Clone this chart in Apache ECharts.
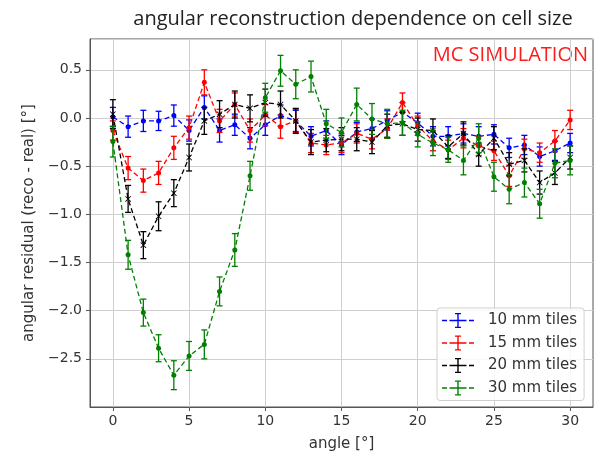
<!DOCTYPE html>
<html><head><meta charset="utf-8">
<script src="https://cdn.jsdelivr.net/npm/echarts@6/dist/echarts.min.js"></script>
<style>html,body{margin:0;padding:0;background:#fff}#c{width:601px;height:457px}</style>
</head><body><div id="c"></div>
<script>
const angles = [0,1,2,3,4,5,6,7,8,9,10,11,12,13,14,15,16,17,18,19,20,21,22,23,24,25,26,27,28,29,30];
const xTicks = [0,5,10,15,20,25,30];
const seriesNames = ['10 mm tiles','15 mm tiles','20 mm tiles','30 mm tiles'];
const tiles10 = [0.01,-0.09,-0.03,-0.03,0.025,-0.13,0.11,-0.13,-0.07,-0.21,-0.07,0.025,-0.03,-0.19,-0.13,-0.28,-0.145,-0.11,-0.025,0.06,-0.05,-0.19,-0.19,-0.16,-0.19,-0.17,-0.31,-0.28,-0.40,-0.34,-0.26];
const err10 = [0.10,0.11,0.11,0.10,0.11,0.11,0.12,0.12,0.11,0.11,0.11,0.11,0.11,0.10,0.10,0.10,0.10,0.10,0.10,0.10,0.10,0.10,0.10,0.10,0.10,0.10,0.10,0.10,0.10,0.10,0.10];
const tiles15 = [-0.13,-0.52,-0.65,-0.57,-0.31,-0.10,0.37,-0.03,0.14,-0.13,0.03,-0.09,-0.03,-0.26,-0.28,-0.26,-0.16,-0.22,-0.11,0.16,-0.08,-0.24,-0.33,-0.21,-0.29,-0.34,-0.60,-0.32,-0.36,-0.24,-0.02];
const err15 = [0.10,0.12,0.12,0.12,0.12,0.12,0.13,0.12,0.12,0.12,0.11,0.12,0.12,0.10,0.10,0.10,0.10,0.10,0.10,0.10,0.10,0.10,0.10,0.10,0.10,0.10,0.11,0.10,0.10,0.11,0.10];
const tiles20 = [0.04,-0.84,-1.32,-1.02,-0.78,-0.41,-0.03,0.04,0.14,0.10,0.16,0.14,-0.03,-0.25,-0.23,-0.22,-0.22,-0.25,-0.08,-0.06,-0.12,-0.13,-0.30,-0.16,-0.38,-0.21,-0.48,-0.44,-0.67,-0.57,-0.41];
const err20 = [0.15,0.14,0.14,0.15,0.14,0.14,0.14,0.14,0.14,0.14,0.14,0.14,0.13,0.13,0.12,0.12,0.12,0.12,0.12,0.12,0.12,0.12,0.12,0.12,0.12,0.12,0.12,0.12,0.12,0.12,0.12];
const tiles30 = [-0.245,-1.42,-2.02,-2.39,-2.67,-2.47,-2.35,-1.80,-1.37,-0.60,0.21,0.49,0.35,0.43,-0.06,-0.15,0.14,-0.01,-0.06,-0.05,-0.17,-0.26,-0.33,-0.44,-0.21,-0.61,-0.74,-0.67,-0.89,-0.47,-0.44];
const err30 = [0.16,0.15,0.14,0.14,0.15,0.15,0.15,0.15,0.17,0.15,0.15,0.16,0.15,0.16,0.15,0.15,0.17,0.16,0.15,0.13,0.13,0.13,0.13,0.15,0.15,0.15,0.15,0.15,0.15,0.15,0.15];
const colors = ['#0000ff','#ff0000','#000000','#008000'];
const values = [tiles10, tiles15, tiles20, tiles30];
const errs = [err10, err15, err20, err30];

const chart = echarts.init(document.getElementById('c'), null, {renderer:'canvas'});
function errRenderer(color){
  return function(params, api){
    const x = api.value(0), lo = api.value(1), hi = api.value(2);
    const p1 = api.coord([x, hi]), p2 = api.coord([x, lo]);
    const w = 3;
    const st = {stroke: color, lineWidth: 1.3};
    return {type:'group', children:[
      {type:'line', shape:{x1:p1[0],y1:p1[1],x2:p2[0],y2:p2[1]}, style:st},
      {type:'line', shape:{x1:p1[0]-w,y1:p1[1],x2:p1[0]+w,y2:p1[1]}, style:st},
      {type:'line', shape:{x1:p2[0]-w,y1:p2[1],x2:p2[0]+w,y2:p2[1]}, style:st}
    ]};
  };
}
const xMarker = 'path://M0,1L1,0L5,4L9,0L10,1L6,5L10,9L9,10L5,6L1,10L0,9L4,5Z';
const series = [];
seriesNames.forEach((name, k) => {
  series.push({
    name: name, type: 'line',
    data: angles.map((a,i)=>[a, values[k][i]]),
    color: colors[k],
    symbol: k===2 ? xMarker : 'circle',
    symbolSize: k===2 ? 6 : 5,
    lineStyle: {type:[5,3], width:1.3, color: colors[k]},
    itemStyle: {color: colors[k]},
    z: 2 + k
  });
  series.push({
    name: name + ' err', type: 'custom',
    data: angles.map((a,i)=>[a, values[k][i]-errs[k][i], values[k][i]+errs[k][i]]),
    encode: {x:0, y:[1,2]},
    renderItem: errRenderer(colors[k]),
    z: 2 + k
  });
});
const legendIcon = 'path://M0,7.3h5v1.4h-5z M7.5,7.3h4.5v1.4h-4.5z M12,7.3h8v1.4h-8z M20,7.3h4.5v1.4h-4.5z M27,7.3h5v1.4h-5z M15.3,0.5h1.4v15h-1.4z M13,0.5h6v1.2h-6z M13,14.3h6v1.2h-6z';
const axisFont = {fontFamily:'DejaVu Sans', fontSize:14, color:'#333'};
const fmt = v => v < 0 ? '\u2212' + Math.abs(v).toFixed(1) : v.toFixed(1);
chart.setOption({
  animation: false,
  backgroundColor: '#fff',
  title: {text:'angular reconstruction dependence on cell size', left: 348, textAlign:'center', top: 4,
    textStyle:{fontFamily:'Open Sans', fontSize:20, fontWeight:'normal', color:'#222'}},
  graphic: [{type:'text', right: 13, top: 45, style:{text:'MC SIMULATION', fill:'#ff1a1a', font:'20px "Open Sans"'}}],
  grid: {left: 90, top: 39, width: 503, height: 376, show: true, borderColor:'#555', borderWidth:1, backgroundColor:'transparent'},
  legend: {
    data: seriesNames, orient:'vertical', left: 437, top: 308,
    icon: legendIcon, itemWidth: 32, itemHeight: 16, itemGap: 7.5,
    padding: [5, 7, 5, 5],
    backgroundColor:'rgba(255,255,255,0.85)', borderColor:'#d0d0d0', borderWidth:1, borderRadius:3,
    itemStyle: {borderWidth: 0},
    textStyle: {fontFamily:'DejaVu Sans', fontSize:15, color:'#333', padding:[0,0,0,9]}
  },
  xAxis: {
    type:'value', min:-1.5, max:31.5,
    name:'angle [°]', nameLocation:'middle', nameGap: 30,
    nameTextStyle:{fontFamily:'DejaVu Sans', fontSize:15, color:'#333'},
    axisLine:{show:true, onZero:false, lineStyle:{color:'#555'}},
    axisTick:{show:true, length:4, lineStyle:{color:'#555'}, customValues: xTicks},
    axisLabel:{...axisFont, margin:7, customValues: xTicks},
    splitLine:{show:true, lineStyle:{color:'#cfcfcf', width:1}}
  },
  yAxis: {
    type:'value', min:-3, max:0.82, interval:0.5,
    name:'angular residual (reco - real) [°]', nameLocation:'middle', nameGap: 51,
    nameTextStyle:{fontFamily:'DejaVu Sans', fontSize:15, color:'#333'},
    axisLine:{show:true, onZero:false, lineStyle:{color:'#555'}},
    axisTick:{show:true, length:4, lineStyle:{color:'#555'}},
    axisLabel:{...axisFont, margin:8, showMinLabel:false, showMaxLabel:false, formatter: fmt},
    splitLine:{show:true, lineStyle:{color:'#cfcfcf', width:1}}
  },
  series: series
});
</script></body></html>
